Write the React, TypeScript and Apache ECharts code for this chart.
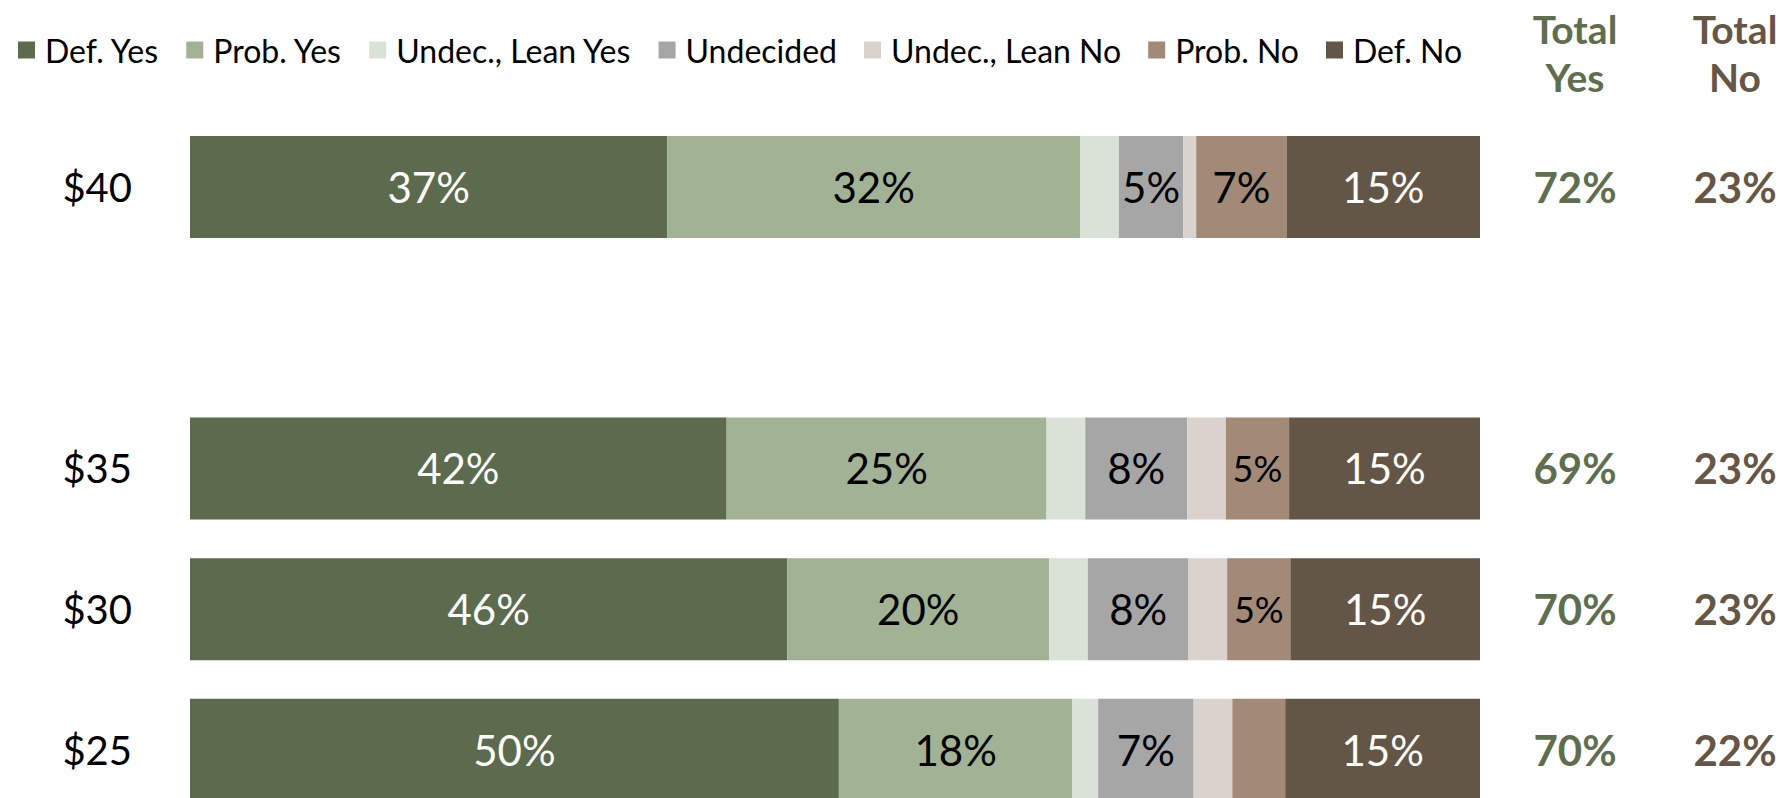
import React, { useEffect, useRef } from 'react';
import * as echarts from 'echarts';

const FONT = 'Lato';

// categories bottom → top (blank slot between $35 and $40)
const categories = ['$25', '$30', '$35', '', '$40'];

const defYes = [50.3, 46.3, 41.6, null, 37.0];
const probYes = [18.1, 20.3, 24.8, null, 32.0];
const leanYes = [2.0, 3.0, 3.0, null, 3.0];
const undecided = [7.4, 7.8, 7.9, null, 5.0];
const leanNo = [3.0, 3.0, 3.0, null, 1.0];
const probNo = [4.1, 4.9, 4.9, null, 7.0];
const defNo = [15.1, 14.8, 14.8, null, 15.0];

const totalYes = [70, 70, 69, null, 72];
const totalNo = [22, 23, 23, null, 23];

const totalHeaders = ['Total Yes', 'Total No'];

const YES_TEXT = '#5E6E4F';
const NO_TEXT = '#665646';

export default function App() {
  const ref = useRef<HTMLDivElement>(null);

  useEffect(() => {
    const chart = echarts.init(ref.current as HTMLDivElement, null, { renderer: 'svg' });

    const segs = [
      { name: 'Def. Yes', data: defYes, color: '#5C6B4E', labelColor: '#ffffff', small: false },
      { name: 'Prob. Yes', data: probYes, color: '#A2B294', labelColor: '#000000', small: false },
      { name: 'Undec., Lean Yes', data: leanYes, color: '#DAE1D6', labelColor: '#000000', small: false },
      { name: 'Undecided', data: undecided, color: '#A6A6A6', labelColor: '#000000', small: false },
      { name: 'Undec., Lean No', data: leanNo, color: '#DAD2CC', labelColor: '#000000', small: false },
      { name: 'Prob. No', data: probNo, color: '#A28A77', labelColor: '#000000', small: true },
      { name: 'Def. No', data: defNo, color: '#645646', labelColor: '#ffffff', small: false },
    ];

    const barSeries = segs.map((s) => ({
      name: s.name,
      type: 'bar',
      stack: 'total',
      xAxisIndex: 0,
      yAxisIndex: 0,
      barWidth: 102,
      color: s.color,
      itemStyle: { color: s.color },
      label: {
        show: true,
        position: 'inside',
        color: s.labelColor,
        fontFamily: FONT,
        fontSize: 42,
        formatter: (p: any) => Math.round(p.value) + '%',
      },
      data: s.data.map((v) =>
        v == null
          ? '-'
          : {
              value: v,
              label: { show: v >= 4.5, fontSize: s.small && v < 6 ? 36 : 42 },
            }
      ),
    }));

    const pts = (arr: (number | null)[], col: number) =>
      arr
        .map((v, i) => (v == null ? null : [col, i, v]))
        .filter((d) => d != null);

    const totalSeries = [
      { data: pts(totalYes, 0), color: YES_TEXT },
      { data: pts(totalNo, 1), color: NO_TEXT },
    ].map((t) => ({
      type: 'scatter',
      xAxisIndex: 1,
      yAxisIndex: 1,
      symbol: 'rect',
      symbolSize: 1,
      silent: true,
      itemStyle: { color: 'rgba(255,255,255,0)', opacity: 1 },
      label: {
        show: true,
        position: 'inside',
        fontFamily: FONT,
        fontSize: 42,
        fontWeight: 'bold',
        color: t.color,
        opacity: 1,
        formatter: (p: any) => p.value[2] + '%',
      },
      data: t.data,
    }));

    const headerAxis = (margin: number, part: number) => ({
      type: 'category',
      gridIndex: 1,
      position: 'top',
      data: totalHeaders,
      boundaryGap: false,
      axisLine: { show: false },
      axisTick: { show: false },
      splitLine: { show: false },
      axisLabel: {
        interval: 0,
        margin,
        fontFamily: FONT,
        fontSize: 39,
        fontWeight: 'bold',
        formatter: (v: string) => v.split(' ')[part],
        color: (_v: any, i: number) => (i === 0 ? YES_TEXT : NO_TEXT),
      },
    });

    chart.setOption({
      animation: false,
      backgroundColor: '#ffffff',
      textStyle: { fontFamily: FONT },
      legend: {
        data: segs.map((s) => s.name),
        left: 13,
        top: 29,
        icon: 'rect',
        itemWidth: 17,
        itemHeight: 17,
        itemGap: 27,
        selectedMode: false,
        textStyle: { fontFamily: FONT, fontSize: 32, color: '#000000', padding: [0, 0, 0, 5] },
      },
      grid: [
        { left: 190, top: 116.7, width: 1290, height: 703.5 },
        { left: 1575, top: 116.7, width: 160, height: 703.5 },
      ],
      xAxis: [
        { type: 'value', gridIndex: 0, min: 0, max: 100, show: false },
        headerAxis(68, 0),
        headerAxis(20, 1),
      ],
      yAxis: [
        {
          type: 'category',
          gridIndex: 0,
          data: categories,
          axisLine: { show: false },
          axisTick: { show: false },
          splitLine: { show: false },
          axisLabel: {
            margin: 58,
            fontFamily: FONT,
            fontSize: 40,
            color: '#000000',
          },
        },
        {
          type: 'category',
          gridIndex: 1,
          data: categories,
          show: false,
        },
      ],
      series: [...barSeries, ...totalSeries],
    });

    return () => chart.dispose();
  }, []);

  return (
    <div style={{ position: 'absolute', left: 0, top: 0, width: 1785, height: 798, overflow: 'hidden' }}>
      <div ref={ref} style={{ width: 1785, height: 840 }} />
    </div>
  );
}
